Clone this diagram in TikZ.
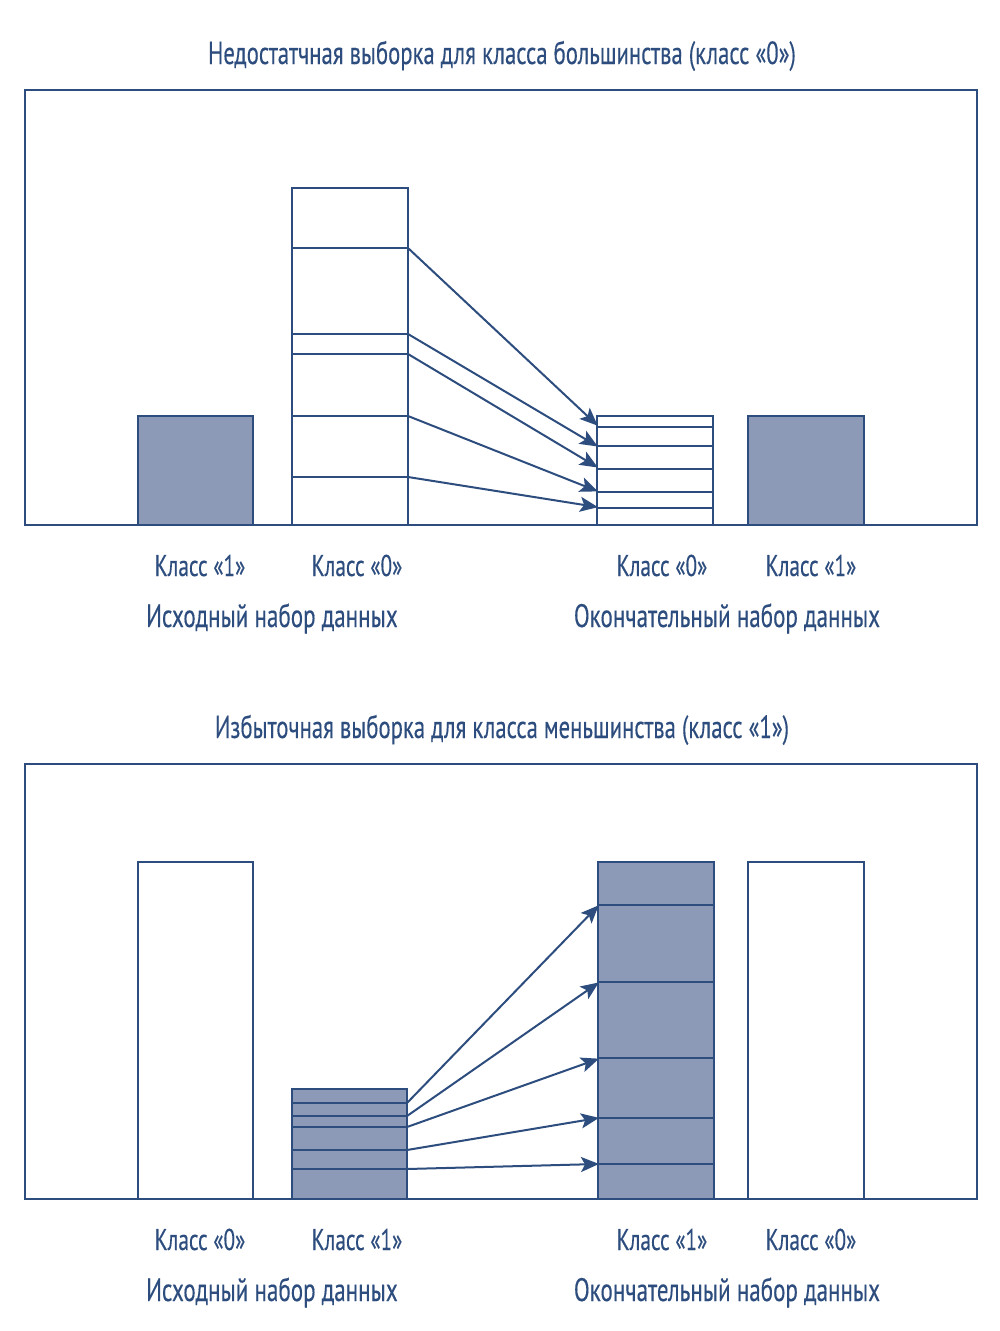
\documentclass[tikz,border=0pt]{standalone}
\usepackage{fontspec}
\usetikzlibrary{arrows.meta}
\newfontfamily\cfont[FakeStretch=0.71,FakeBold=0.25]{PT Sans}
\definecolor{ink}{HTML}{2D4D7E}
\definecolor{barfill}{HTML}{8D9AB7}
\tikzset{
  frame/.style={draw=ink, line width=2pt},
  fullbar/.style={draw=ink, fill=barfill, line width=2.2pt},
  emptybar/.style={draw=ink, fill=white, line width=2.2pt},
  stripe/.style={draw=ink, line width=2pt},
  arr/.style={draw=ink, line width=2pt, -{Stealth[length=18pt,width=15pt,inset=4pt]}, shorten >=-1pt},
  ttl/.style={anchor=base, text=ink, font=\cfont\fontsize{32}{32}\selectfont, inner sep=0pt},
  cls/.style={anchor=base, text=ink, font=\cfont\fontsize{30}{30}\selectfont, inner sep=0pt},
  dset/.style={anchor=base, text=ink, font=\cfont\fontsize{32.5}{32.5}\selectfont, inner sep=0pt}
}
\begin{document}
\begin{tikzpicture}[x=1pt,y=-1pt]
\useasboundingbox (0,0) rectangle (1000,1331);
% ===== Top panel =====
\node[ttl] (t1) at (502,64) {Недостатчная выборка для класса большинства (класс «0»)};
\draw[frame] (25,90) rectangle (977,525);
\draw[fullbar] (138,416) rectangle (253,525);
\draw[emptybar] (292,188) rectangle (408,525);
\foreach \y in {248,334,354,416,477} \draw[stripe] (292,\y) -- (408,\y);
\draw[emptybar] (597,416) rectangle (713,525);
\foreach \y in {427,446,469,492,508} \draw[stripe] (597,\y) -- (713,\y);
\draw[fullbar] (748,416) rectangle (864,525);
\coordinate (s1) at (408,248);
\coordinate (s2) at (408,334);
\coordinate (s3) at (408,354);
\coordinate (s4) at (408,416);
\coordinate (s5) at (408,477);
\coordinate (e1) at (597,425);
\coordinate (e2) at (597,446);
\coordinate (e3) at (597,467);
\coordinate (e4) at (597,491);
\coordinate (e5) at (597,507);
\foreach \i in {1,...,5} \draw[arr] (s\i) -- (e\i);
\node[cls] (l1) at (200,576) {Класс «1»};
\node[cls] (l2) at (357,576) {Класс «0»};
\node[cls] (l3) at (662,576) {Класс «0»};
\node[cls] (l4) at (811,576) {Класс «1»};
\node[dset] (d1) at (272,627) {Исходный набор данных};
\node[dset] (d2) at (727,627) {Окончательный набор данных};
% ===== Bottom panel =====
\node[ttl] (t2) at (502,738) {Избыточная выборка для класса меньшинства (класс «1»)};
\draw[frame] (25,764) rectangle (977,1199);
\draw[emptybar] (138,862) rectangle (253,1199);
\draw[fullbar] (292,1089) rectangle (407,1199);
\foreach \y in {1103,1116,1127,1150,1169} \draw[stripe] (292,\y) -- (407,\y);
\draw[fullbar] (598,862) rectangle (714,1199);
\foreach \y in {905,982,1058,1118,1164} \draw[stripe] (598,\y) -- (714,\y);
\draw[emptybar] (748,862) rectangle (864,1199);
\coordinate (u1) at (407,1103);
\coordinate (u2) at (407,1116);
\coordinate (u3) at (407,1127);
\coordinate (u4) at (407,1150);
\coordinate (u5) at (407,1169);
\coordinate (v1) at (598,906);
\coordinate (v2) at (598,983);
\coordinate (v3) at (598,1059);
\coordinate (v4) at (598,1118);
\coordinate (v5) at (598,1164);
\foreach \i in {1,...,5} \draw[arr] (u\i) -- (v\i);
\node[cls] (m1) at (200,1250) {Класс «0»};
\node[cls] (m2) at (357,1250) {Класс «1»};
\node[cls] (m3) at (662,1250) {Класс «1»};
\node[cls] (m4) at (811,1250) {Класс «0»};
\node[dset] (f1) at (272,1301) {Исходный набор данных};
\node[dset] (f2) at (727,1301) {Окончательный набор данных};
\end{tikzpicture}
\end{document}
